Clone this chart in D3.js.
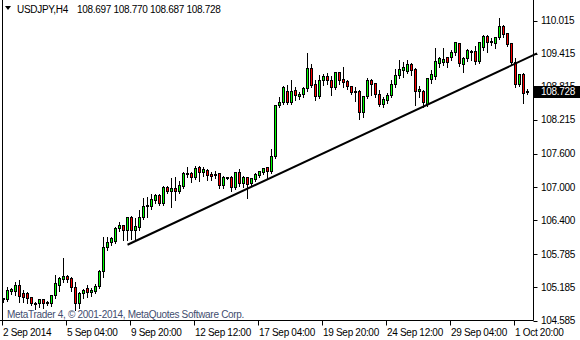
<!DOCTYPE html>
<html>
<head>
<meta charset="utf-8">
<script src="https://cdn.jsdelivr.net/npm/d3@7"></script>
<style>
  html, body { margin: 0; padding: 0; background: #fff; }
  svg text { font-family: "Liberation Sans", Arial, sans-serif; font-size: 10px; letter-spacing: -0.3px; }
</style>
</head>
<body>
<div id="chart"></div>
<script>
// USDJPY H4 bars, 2 Sep 2014 12:00 .. 2 Oct 2014 08:00
const openPrices = [
  104.960, 104.960, 105.105, 105.105, 105.213, 105.069, 105.069, 104.996, 104.870, 104.888,
  104.960, 104.888, 104.888, 105.032, 105.213, 105.322, 105.376, 105.340, 105.177, 104.888,
  105.069, 105.159, 105.087, 105.105, 105.195, 105.467, 105.901, 105.992, 106.010, 106.245,
  106.299, 106.209, 106.444, 106.209, 106.263, 106.444, 106.643, 106.643, 106.752, 106.842,
  106.698, 106.987, 106.915, 106.969, 106.915, 107.005, 107.223, 107.241, 107.168, 107.349,
  107.259, 107.295, 107.223, 107.204, 107.241, 107.023, 107.168, 107.168, 106.987, 107.259,
  107.060, 107.168, 107.060, 107.132, 107.204, 107.259, 107.349, 107.277, 107.548, 108.471,
  108.526, 108.725, 108.526, 108.743, 108.634, 108.671, 108.779, 109.141, 108.852, 108.634,
  108.924, 108.996, 108.924, 108.797, 109.069, 108.942, 108.906, 108.815, 108.707, 108.725,
  108.345, 108.634, 108.924, 108.870, 108.671, 108.490, 108.562, 108.652, 108.852, 109.014,
  109.105, 109.087, 109.214, 109.123, 108.725, 108.725, 108.490, 108.942, 108.996, 109.232,
  109.250, 109.340, 109.340, 109.431, 109.594, 109.214, 109.322, 109.431, 109.449, 109.268,
  109.521, 109.720, 109.612, 109.594, 109.702, 109.901, 109.775, 109.594, 109.250, 108.852,
  109.033, 108.697
];
const highPrices = [
  104.996, 105.195, 105.177, 105.286, 105.322, 105.141, 105.105, 105.014, 104.924, 104.978,
  104.978, 104.942, 105.051, 105.413, 105.376, 105.720, 105.413, 105.376, 105.286, 105.105,
  105.159, 105.232, 105.177, 105.250, 105.503, 106.100, 106.100, 106.100, 106.281, 106.372,
  106.318, 106.462, 106.480, 106.444, 106.589, 106.806, 106.824, 106.879, 106.879, 106.879,
  107.023, 107.023, 107.168, 107.186, 107.114, 107.277, 107.367, 107.277, 107.385, 107.385,
  107.367, 107.331, 107.277, 107.295, 107.259, 107.204, 107.186, 107.204, 107.277, 107.331,
  107.204, 107.186, 107.168, 107.259, 107.295, 107.349, 107.367, 107.693, 108.490, 108.634,
  108.833, 108.852, 108.942, 108.815, 108.725, 108.815, 109.431, 109.232, 108.942, 109.033,
  109.051, 109.069, 109.014, 109.087, 109.087, 109.177, 108.942, 108.833, 108.815, 108.761,
  108.652, 108.978, 108.960, 108.888, 108.761, 108.634, 108.707, 108.942, 109.141, 109.304,
  109.268, 109.304, 109.250, 109.159, 108.833, 108.761, 108.978, 109.123, 109.521, 109.358,
  109.521, 109.358, 109.485, 109.630, 109.612, 109.358, 109.503, 109.485, 109.557, 109.630,
  109.757, 109.757, 109.702, 109.720, 110.064, 109.938, 109.793, 109.612, 109.340, 109.051,
  109.069, 108.770
];
const lowPrices = [
  104.924, 104.942, 105.069, 105.051, 104.924, 104.924, 104.906, 104.870, 104.797, 104.833,
  104.815, 104.870, 104.851, 104.996, 105.123, 105.286, 105.286, 105.123, 104.779, 104.815,
  104.996, 105.014, 105.032, 105.087, 105.177, 105.376, 105.865, 105.956, 105.992, 106.209,
  106.046, 106.046, 106.064, 106.046, 106.227, 106.426, 106.462, 106.607, 106.716, 106.680,
  106.680, 106.897, 106.643, 106.770, 106.897, 106.987, 107.186, 107.096, 107.150, 107.114,
  107.204, 107.132, 107.132, 107.168, 106.987, 106.987, 107.150, 106.933, 106.969, 107.023,
  107.005, 106.806, 107.042, 107.114, 107.186, 107.241, 107.168, 107.259, 107.530, 108.453,
  108.508, 108.508, 108.508, 108.580, 108.598, 108.634, 108.743, 108.815, 108.580, 108.616,
  108.852, 108.870, 108.671, 108.779, 108.870, 108.815, 108.779, 108.689, 108.562, 108.236,
  108.272, 108.616, 108.671, 108.634, 108.471, 108.453, 108.526, 108.634, 108.815, 108.978,
  108.996, 109.069, 109.033, 108.490, 108.634, 108.453, 108.471, 108.888, 108.960, 109.177,
  109.214, 109.177, 109.304, 109.395, 109.195, 109.087, 109.286, 109.304, 109.232, 109.250,
  109.485, 109.449, 109.576, 109.521, 109.684, 109.720, 109.557, 109.214, 108.815, 108.833,
  108.526, 108.687
];
const closePrices = [
  104.978, 105.123, 105.141, 105.213, 105.014, 104.996, 104.978, 104.888, 104.888, 104.960,
  104.888, 104.906, 105.032, 105.250, 105.340, 105.376, 105.322, 105.177, 104.888, 105.069,
  105.123, 105.087, 105.123, 105.195, 105.467, 105.901, 105.992, 106.064, 106.245, 106.299,
  106.209, 106.444, 106.209, 106.281, 106.444, 106.643, 106.661, 106.770, 106.842, 106.698,
  106.987, 106.915, 106.969, 106.915, 107.023, 107.241, 107.241, 107.168, 107.331, 107.259,
  107.313, 107.204, 107.186, 107.223, 107.023, 107.168, 107.155, 106.987, 107.259, 107.060,
  107.168, 107.042, 107.150, 107.223, 107.277, 107.331, 107.277, 107.548, 108.471, 108.526,
  108.797, 108.526, 108.725, 108.652, 108.671, 108.779, 109.141, 108.833, 108.634, 108.924,
  108.996, 108.924, 108.797, 109.069, 108.924, 108.888, 108.815, 108.707, 108.725, 108.345,
  108.634, 108.924, 108.852, 108.671, 108.490, 108.580, 108.652, 108.852, 109.014, 109.123,
  109.159, 109.214, 109.105, 108.725, 108.761, 108.526, 108.960, 109.033, 109.268, 109.322,
  109.304, 109.250, 109.431, 109.612, 109.232, 109.322, 109.467, 109.449, 109.268, 109.612,
  109.720, 109.612, 109.630, 109.702, 109.901, 109.757, 109.576, 109.250, 108.852, 109.033,
  108.689, 108.728
];

const priceTicks = [110.015, 109.415, 108.815, 108.215, 107.600, 107.000, 106.400, 105.785, 105.185, 104.585];
const timeTickBars = [0, 16, 32, 48, 64, 80, 96, 112, 128];
const timeTickLabels = ["2 Sep 2014", "5 Sep 04:00", "9 Sep 20:00", "12 Sep 12:00", "17 Sep 04:00",
  "19 Sep 20:00", "24 Sep 12:00", "29 Sep 04:00", "1 Oct 20:00"];

// trend line anchors: [bar index, price]
const trendBars = [31, 131];
const trendPrices = [105.956, 109.338];

const symbolTitle = "USDJPY,H4";
const watermark = "MetaTrader 4, \u00a9 2001-2014, MetaQuotes Software Corp.";

const width = 580, height = 340;
const plotRight = 533.5, plotBottom = 320.5;

const bars = openPrices.map((o, i) => ({
  i: i, open: o, high: highPrices[i], low: lowPrices[i], close: closePrices[i]
}));

const x = d3.scaleLinear().domain([0, 1]).range([3.5, 7.5]);
const y = d3.scaleLinear().domain([104.585, 110.015]).range([plotBottom, 20.5]);

const svg = d3.select('#chart').append('svg')
  .attr('width', width)
  .attr('height', height);

svg.append('rect').attr('width', width).attr('height', height).attr('fill', '#fff');

// frame
svg.append('line')
  .attr('x1', 2.5).attr('x2', 2.5).attr('y1', 0).attr('y2', plotBottom)
  .attr('stroke', '#000');
svg.append('line')
  .attr('x1', plotRight).attr('x2', plotRight).attr('y1', 0).attr('y2', plotBottom)
  .attr('stroke', '#000');
svg.append('line')
  .attr('x1', 0).attr('x2', plotRight).attr('y1', plotBottom).attr('y2', plotBottom)
  .attr('stroke', '#000');

// watermark
svg.append('text')
  .attr('x', 7).attr('y', 318)
  .attr('fill', '#3f4d6e')
  .text(watermark);

// candles
const candle = svg.append('g').attr('shape-rendering', 'crispEdges');

candle.selectAll('.wick')
  .data(bars)
  .enter().append('line')
  .attr('class', 'wick')
  .attr('x1', d => x(d.i)).attr('x2', d => x(d.i))
  .attr('y1', d => Math.round(y(d.high)) - 0.5)
  .attr('y2', d => Math.round(y(d.low)) + 0.5)
  .attr('stroke', '#000');

candle.selectAll('.body')
  .data(bars)
  .enter().append('rect')
  .attr('class', 'body')
  .attr('x', d => x(d.i) - 1)
  .attr('width', 2)
  .attr('y', d => Math.round(y(Math.max(d.open, d.close))) - 0.5)
  .attr('height', d => Math.max(0, Math.round(y(Math.min(d.open, d.close))) - Math.round(y(Math.max(d.open, d.close)))))
  .attr('fill', d => d.close >= d.open ? '#00ff00' : '#ff0000')
  .attr('stroke', '#000');

// trend line (ray to the right edge)
const slope = (trendPrices[1] - trendPrices[0]) / (trendBars[1] - trendBars[0]);
const rayEnd = x.invert(537);
svg.append('line')
  .attr('x1', x(trendBars[0])).attr('y1', y(trendPrices[0]))
  .attr('x2', x(rayEnd)).attr('y2', y(trendPrices[0] + slope * (rayEnd - trendBars[0])))
  .attr('stroke', '#000')
  .attr('stroke-width', 2);

// price axis
const priceAxis = svg.append('g');
priceAxis.selectAll('.ptick')
  .data(priceTicks)
  .enter().append('line')
  .attr('x1', plotRight).attr('x2', plotRight + 4)
  .attr('y1', d => Math.round(y(d)) + 0.5).attr('y2', d => Math.round(y(d)) + 0.5)
  .attr('stroke', '#000');
priceAxis.selectAll('.plabel')
  .data(priceTicks)
  .enter().append('text')
  .attr('x', 541)
  .attr('y', d => y(d) + 3.5)
  .attr('fill', '#000')
  .text(d => d.toFixed(3));

// current price tag
const last = bars[bars.length - 1];
svg.append('rect')
  .attr('x', 534).attr('y', Math.round(y(last.close)) - 6)
  .attr('width', 46).attr('height', 12)
  .attr('fill', '#000');
svg.append('text')
  .attr('x', 541).attr('y', y(last.close) + 3.5)
  .attr('fill', '#fff')
  .text(last.close.toFixed(3));

// time axis
const timeAxis = svg.append('g');
timeAxis.selectAll('.ttick')
  .data(timeTickBars)
  .enter().append('line')
  .attr('x1', d => x(d) - 1).attr('x2', d => x(d) - 1)
  .attr('y1', plotBottom).attr('y2', plotBottom + 5)
  .attr('stroke', '#000');
timeAxis.selectAll('.tlabel')
  .data(timeTickBars)
  .enter().append('text')
  .attr('x', d => x(d) - 0.5)
  .attr('y', 336)
  .attr('fill', '#000')
  .text((d, i) => timeTickLabels[i]);

// header
svg.append('path')
  .attr('d', 'M5,6 L11,6 L8,10 Z')
  .attr('fill', '#000');
svg.append('text')
  .attr('x', 17).attr('y', 13)
  .attr('fill', '#000')
  .text(symbolTitle);
svg.append('text')
  .attr('x', 77).attr('y', 13)
  .attr('fill', '#000')
  .text([last.open, last.high, last.low, last.close].map(v => v.toFixed(3)).join(' '));
</script>
</body>
</html>
